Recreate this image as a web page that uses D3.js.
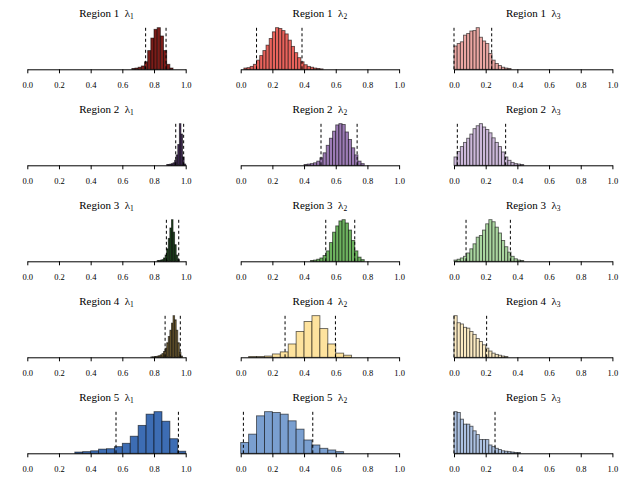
<!DOCTYPE html>
<html>
<head>
<meta charset="utf-8">
<script src="https://cdn.jsdelivr.net/npm/d3@7"></script>
<style>
  html, body { margin: 0; padding: 0; background: #fff; }
  svg { display: block; }
</style>
</head>
<body>
<svg id="chart" width="640" height="480"></svg>
<script>
// ---------------- DATA ----------------
const regions = ["Region 1", "Region 2", "Region 3", "Region 4", "Region 5"];
const params = ["1", "2", "3"];
const tickValues = [0, 0.2, 0.4, 0.6, 0.8, 1.0];

// first bin left edge for each panel [row][col]
const binStart = [
  [0.66, 0.02, 0.00],
  [0.88, 0.40, 0.00],
  [0.82, 0.44, 0.00],
  [0.78, 0.05, 0.00],
  [0.30, 0.00, 0.00]
];
// bin widths [row][col]
const binWidth = [
  [0.02, 0.02, 0.02],
  [0.01, 0.02, 0.02],
  [0.01, 0.02, 0.02],
  [0.01, 0.05, 0.02],
  [0.05, 0.05, 0.02]
];

// histogram heights (relative counts)
const r1l1 = [2, 3, 5, 8, 18, 45, 75, 96, 100, 80, 45, 12, 3];
const r1l2 = [3, 4, 7, 12, 22, 33, 45, 58, 74, 90, 100, 98, 93, 85, 70, 55, 40, 28, 18, 11, 7, 5, 3, 2, 1];
const r1l3 = [56, 62, 66, 82, 86, 92, 93, 100, 77, 68, 62, 38, 22, 14, 9, 5, 3, 2];
const r2l1 = [2, 2, 3, 4, 6, 12, 25, 50, 100, 75, 20, 3];
const r2l2 = [2, 3, 4, 6, 10, 18, 30, 48, 65, 82, 97, 100, 98, 80, 62, 42, 25, 10, 4];
const r2l3 = [20, 33, 45, 55, 65, 75, 88, 95, 100, 92, 86, 78, 66, 55, 45, 32, 20, 12, 7, 4, 3, 2];
const r3l1 = [2, 2, 3, 4, 8, 15, 30, 55, 80, 100, 70, 40, 15, 4];
const r3l2 = [2, 3, 5, 8, 14, 25, 45, 70, 85, 97, 100, 92, 75, 50, 25, 10, 4];
const r3l3 = [3, 5, 8, 12, 20, 30, 42, 58, 62, 75, 90, 100, 95, 82, 68, 50, 35, 22, 12, 6, 3, 2];
const r4l1 = [1, 1, 2, 2, 3, 4, 6, 9, 14, 22, 35, 50, 65, 82, 100, 90, 65, 35, 12, 3];
const r4l2 = [2, 2, 3, 8, 13, 32, 62, 86, 100, 69, 32, 10, 5];
const r4l3 = [100, 83, 80, 72, 70, 62, 55, 45, 38, 30, 22, 15, 10, 7, 5, 3, 2];
const r5l1 = [3, 4, 6, 10, 11, 16, 24, 41, 67, 94, 100, 77, 35, 5];
const r5l2 = [26, 46, 90, 100, 98, 94, 78, 58, 32, 20, 12, 8, 4];
const r5l3 = [100, 98, 82, 70, 70, 65, 54, 45, 33, 33, 33, 20, 16, 12, 9, 6, 5, 4, 3, 2, 2];

// credible interval bounds (dashed lines) [row][col]
const ciLower = [
  [0.747, 0.100, 0.000],
  [0.937, 0.507, 0.021],
  [0.878, 0.537, 0.076],
  [0.870, 0.280, 0.000],
  [0.560, 0.017, 0.000]
];
const ciUpper = [
  [0.876, 0.387, 0.238],
  [0.987, 0.735, 0.326],
  [0.956, 0.720, 0.356],
  [0.966, 0.598, 0.206],
  [0.954, 0.455, 0.259]
];

const fillColors = [
  ["#7b1d19", "#e9635c", "#eba7a3"],
  ["#4a3060", "#9d7cb6", "#cdb9da"],
  ["#234d23", "#6db35f", "#aad6a0"],
  ["#7a6535", "#fee39e", "#fcebc3"],
  ["#3d6db4", "#7a9fd0", "#adc2e2"]
];

const counts = [
  [r1l1, r1l2, r1l3],
  [r2l1, r2l2, r2l3],
  [r3l1, r3l2, r3l3],
  [r4l1, r4l2, r4l3],
  [r5l1, r5l2, r5l3]
];

// ---------------- LAYOUT ----------------
const svg = d3.select("#chart");
const colX0 = [27.3, 240.7, 454.0];
const panelW = 158.4;
const axisY0 = 69.3, rowStep = 96;
const plotH = 43.3;
const serif = "'Liberation Serif', 'DejaVu Serif', 'Times New Roman', serif";

regions.forEach((reg, r) => {
  params.forEach((p, c) => {
    const axisY = axisY0 + r * rowStep;
    const x = d3.scaleLinear().domain([0, 1]).range([colX0[c], colX0[c] + panelW]);
    const vals = counts[r][c];
    const ymax = d3.max(vals) * 1.04;
    const y = d3.scaleLinear().domain([0, ymax]).range([axisY, axisY - plotH]);
    const w = binWidth[r][c], s0 = binStart[r][c];
    const bins = vals.map((v, i) => ({ x0: s0 + i * w, x1: s0 + (i + 1) * w, v }));

    const g = svg.append("g");

    g.selectAll("rect.bar").data(bins).enter().append("rect")
      .attr("class", "bar")
      .attr("x", d => x(d.x0))
      .attr("width", d => x(d.x1) - x(d.x0))
      .attr("y", d => y(d.v))
      .attr("height", d => axisY - y(d.v))
      .attr("fill", fillColors[r][c])
      .attr("stroke", "#000")
      .attr("stroke-opacity", 0.6)
      .attr("stroke-width", 0.9);

    // dashed credible interval lines
    [ciLower[r][c], ciUpper[r][c]].forEach(v => {
      g.append("line")
        .attr("x1", x(v)).attr("x2", x(v))
        .attr("y1", y(0)).attr("y2", y(ymax))
        .attr("stroke", "#000")
        .attr("stroke-width", 1)
        .attr("stroke-dasharray", "3,2.5");
    });

    // axis
    const ax = g.append("g")
      .attr("transform", `translate(0,${axisY})`)
      .call(d3.axisBottom(x).tickValues(tickValues)
        .tickFormat(d3.format(".1f")).tickSize(4).tickSizeOuter(0).tickPadding(8.5));
    ax.select(".domain").attr("stroke", "#000").attr("stroke-width", 1);
    ax.selectAll(".tick line").attr("stroke", "#000").attr("stroke-width", 1);
    ax.selectAll(".tick text")
      .attr("font-family", serif)
      .attr("font-size", 8.5)
      .attr("fill", "#000");

    // title
    const t = g.append("text")
      .attr("x", colX0[c] + panelW / 2)
      .attr("y", axisY - 52.8)
      .attr("text-anchor", "middle")
      .attr("font-family", serif)
      .attr("font-size", 11)
      .attr("fill", "#000");
    t.append("tspan").text(reg + "\u00a0\u00a0\u03bb");
    t.append("tspan").attr("font-size", 7.5).attr("dy", 2.5).text(p);
  });
});
</script>
</body>
</html>
